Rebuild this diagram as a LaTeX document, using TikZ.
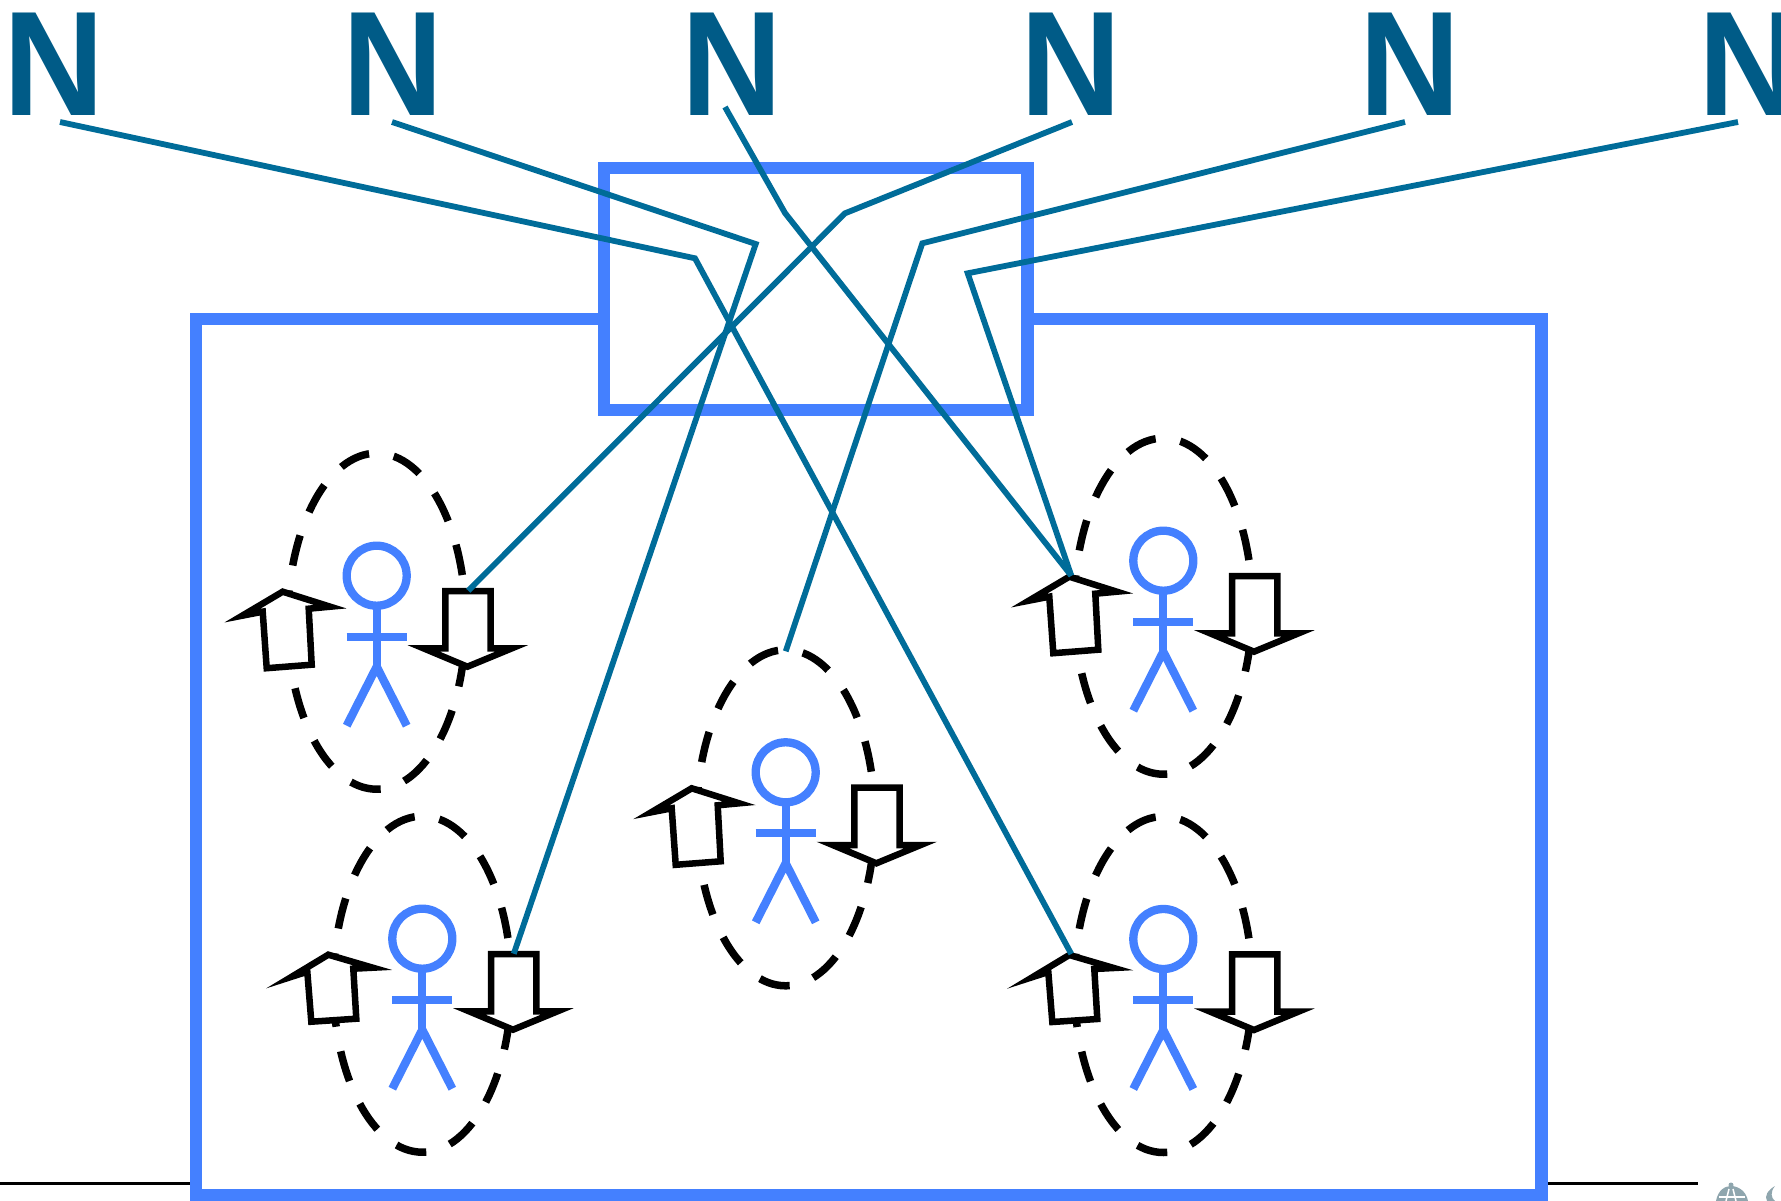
\documentclass[tikz,border=0pt]{standalone}
\usepackage{fontspec}
\setmainfont[FakeStretch=0.94]{Liberation Sans}
\definecolor{boxblue}{HTML}{4480FF}
\definecolor{linkteal}{HTML}{006C99}
\definecolor{letterblue}{HTML}{005B87}
\definecolor{crestgrey}{HTML}{8FA6AE}
\begin{document}
\begin{tikzpicture}[x=1pt,y=-1pt,
  letter/.style={inner sep=0, anchor=base, text=letterblue, font=\fontsize{149}{149}\selectfont\bfseries},
  wall/.style={draw=boxblue, fill=white, line width=12.5pt, miter limit=10},
  group/.style={draw=black, line width=7.5pt, dash pattern=on 31pt off 25pt},
  figure/.style={draw=boxblue, line width=8.3pt},
  flow/.style={draw=black, fill=white, line width=6.5pt, miter limit=30},
  link/.style={draw=linkteal, line width=5.8pt}]

\useasboundingbox (0,0) rectangle (1781,1201);

\draw[line width=3pt] (0,1183) -- (1698,1183);

\draw[wall] (196,319) rectangle (1541.7,1195);
\draw[wall] (604,168) rectangle (1027.5,410);

\foreach \n/\x/\y/\h in {1/376.7/575.7/0, 2/785.7/772.3/0, 3/1163.3/560.7/0, 4/422.3/938.7/1, 5/1163.3/939/1} {
\begin{scope}[shift={(\x,\y)}]
\draw[group] (-89,45.5) arc [start angle=180, end angle=540, x radius=89, y radius=168];
\coordinate (p\n-top) at (0,-121);
\coordinate (p\n-up) at (-92,15);
\coordinate (p\n-down) at (91.5,15);
\draw[figure] (0,0) circle [radius=30];
\draw[figure] (0,30) -- (0,91);
\draw[figure] (-30,61) -- (30,61);
\draw[figure] (-30,150) -- (0,91) -- (30,150);
\draw[flow] (-134.5+4*\h,40-2*\h) -- (-94,16) -- (-46.5-3*\h,31-2*\h) -- (-68-\h,33-3*\h) -- (-65-\h,89-9*\h) -- (-110-\h,92.5-9.5*\h) -- (-114-\h,36-3*\h) -- cycle;
\draw[flow] (68.7,15.3) -- (114,15.3) -- (114,72.7) -- (135,72.7) -- (90.7,91) -- (47,72.7) -- (68.7,72.7) -- cycle;
\end{scope}
}

\foreach \n/\x in {1/54.5, 2/393.5, 3/732.5, 4/1071.5, 5/1410.5, 6/1749.5} {
\node[letter] (n\n) at (\x,116) {N};
}

\coordinate (s1) at (60,122);
\coordinate (s2) at (392,122);
\coordinate (s3) at (725,107);
\coordinate (s4) at (1072,122);
\coordinate (s5) at (1405,122);
\coordinate (s6) at (1738,122);

\coordinate (b1) at (695,258.3);
\coordinate (b2) at (755.7,244);
\coordinate (b3) at (785,213);
\coordinate (b4) at (845,213.3);
\coordinate (b5) at (922.3,243.3);
\coordinate (b6) at (967.7,273.3);

\draw[link] (s1) -- (b1) -- (p5-up);
\draw[link] (s2) -- (b2) -- (p4-down);
\draw[link] (s3) -- (b3) -- (p3-up);
\draw[link] (s4) -- (b4) -- (p1-down);
\draw[link] (s5) -- (b5) -- (p2-top);
\draw[link] (s6) -- (b6) -- (p3-up);

\fill[crestgrey] (1716,1201) .. controls (1718,1190) and (1725,1186) .. (1731,1186) .. controls (1737,1186) and (1746,1190) .. (1748,1201) -- cycle;
\fill[crestgrey] (1731,1185) circle [radius=2.5];
\draw[white, line width=1.5pt] (1726,1201) -- (1729,1189);
\draw[white, line width=1.5pt] (1736,1201) -- (1733,1189);
\draw[white, line width=1.5pt] (1719,1197) -- (1745,1197);
\fill[crestgrey] (1775,1186) .. controls (1768,1190) and (1764,1196) .. (1767,1201) -- (1775,1201) .. controls (1771,1198) and (1770,1192) .. (1775,1186) -- cycle;

\end{tikzpicture}
\end{document}
